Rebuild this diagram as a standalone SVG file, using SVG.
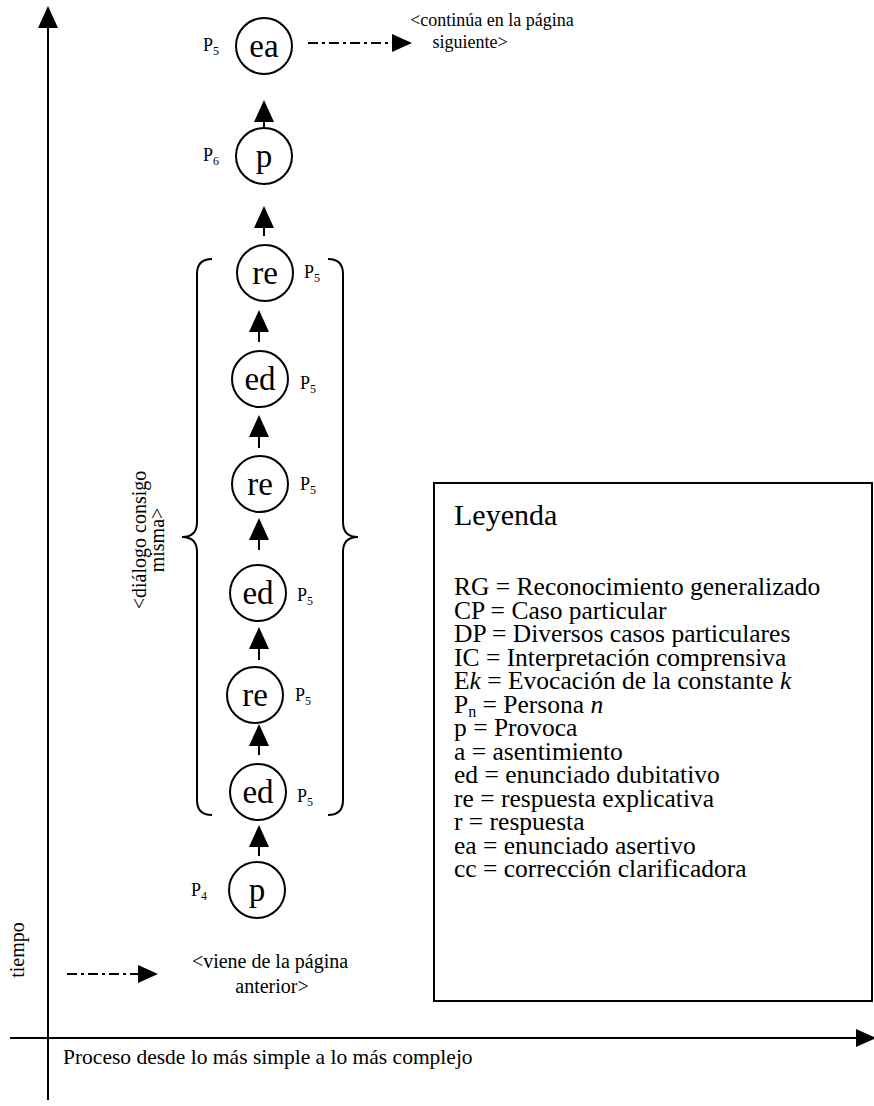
<svg xmlns="http://www.w3.org/2000/svg" xmlns:xlink="http://www.w3.org/1999/xlink" width="874" height="1106" viewBox="0 0 874 1106">
  <style>
    text { font-family: "Liberation Serif", "Times New Roman", serif; fill: #000; }
    .ring { fill: #fff; stroke: #000; stroke-width: 2; }
    .lbl { font-size: 33px; text-anchor: middle; }
    .who { font-size: 18px; }
    .sub { font-size: 12px; }
    .line { stroke: #000; stroke-width: 2; fill: none; }
    .dashdot { stroke: #000; stroke-width: 2; fill: none; stroke-dasharray: 10 4 3 4; }
    .head { fill: #000; }
    .note { font-size: 20px; }
    .legend { font-size: 25.5px; }
    .brace { stroke: #000; stroke-width: 2; fill: none; }
  </style>
  <defs>
    <!-- arrowhead pointing up, tip at origin -->
    <path id="up" class="head" d="M0,0 L10,22 L-10,22 Z"/>
    <!-- arrowhead pointing right, tip at origin -->
    <path id="right" class="head" d="M0,0 L-20,-9 L-20,9 Z"/>
  </defs>

  <!-- axes -->
  <g id="axes">
    <line class="line" x1="48" y1="26" x2="48" y2="1100"/>
    <use xlink:href="#up" x="48" y="6"/>
    <line class="line" x1="10" y1="1038" x2="858" y2="1038"/>
    <use xlink:href="#right" x="876" y="1038"/>
    <text class="note" transform="translate(24,950) rotate(-90)" text-anchor="middle">tiempo</text>
    <text x="63" y="1064" font-size="21.5">Proceso desde lo más simple a lo más complejo</text>
  </g>

  <!-- connectors -->
  <g id="connectors">
    <line class="line" x1="264" y1="120" x2="264" y2="128"/><use xlink:href="#up" x="264" y="100"/>
    <line class="line" x1="264" y1="226" x2="264" y2="236"/><use xlink:href="#up" x="264" y="206"/>
    <line class="line" x1="259" y1="330" x2="259" y2="342"/><use xlink:href="#up" x="259" y="310"/>
    <line class="line" x1="259" y1="435" x2="259" y2="448"/><use xlink:href="#up" x="259" y="415"/>
    <line class="line" x1="259" y1="538" x2="259" y2="550"/><use xlink:href="#up" x="259" y="518"/>
    <line class="line" x1="259" y1="647" x2="259" y2="660"/><use xlink:href="#up" x="259" y="627"/>
    <line class="line" x1="259" y1="744" x2="259" y2="755"/><use xlink:href="#up" x="259" y="724"/>
    <line class="line" x1="259" y1="845" x2="259" y2="856"/><use xlink:href="#up" x="259" y="825"/>
    <!-- page continuation arrows -->
    <line class="dashdot" x1="308" y1="43" x2="393" y2="43"/><use xlink:href="#right" x="412" y="43"/>
    <line class="dashdot" x1="67" y1="974" x2="140" y2="974"/><use xlink:href="#right" x="158" y="974"/>
  </g>

  <!-- dialogue nodes -->
  <g id="n-ea">
    <circle class="ring" cx="264" cy="46" r="28"/>
    <text class="lbl" x="264" y="57">ea</text>
    <text class="who" x="203" y="51">P<tspan class="sub" dy="4">5</tspan></text>
  </g>
  <g id="n-p6">
    <circle class="ring" cx="264" cy="156" r="28"/>
    <text class="lbl" x="264" y="167">p</text>
    <text class="who" x="203" y="161">P<tspan class="sub" dy="4">6</tspan></text>
  </g>
  <g id="n-re1">
    <circle class="ring" cx="265" cy="273" r="28"/>
    <text class="lbl" x="265" y="284">re</text>
    <text class="who" x="304" y="278">P<tspan class="sub" dy="4">5</tspan></text>
  </g>
  <g id="n-ed1">
    <circle class="ring" cx="260" cy="379" r="28"/>
    <text class="lbl" x="260" y="390">ed</text>
    <text class="who" x="300" y="389">P<tspan class="sub" dy="4">5</tspan></text>
  </g>
  <g id="n-re2">
    <circle class="ring" cx="260" cy="484" r="28"/>
    <text class="lbl" x="260" y="495">re</text>
    <text class="who" x="300" y="490">P<tspan class="sub" dy="4">5</tspan></text>
  </g>
  <g id="n-ed2">
    <circle class="ring" cx="258" cy="593" r="28"/>
    <text class="lbl" x="258" y="604">ed</text>
    <text class="who" x="297" y="601">P<tspan class="sub" dy="4">5</tspan></text>
  </g>
  <g id="n-re3">
    <circle class="ring" cx="255" cy="695" r="28"/>
    <text class="lbl" x="255" y="706">re</text>
    <text class="who" x="295" y="701">P<tspan class="sub" dy="4">5</tspan></text>
  </g>
  <g id="n-ed3">
    <circle class="ring" cx="258" cy="792" r="28"/>
    <text class="lbl" x="258" y="803">ed</text>
    <text class="who" x="297" y="802">P<tspan class="sub" dy="4">5</tspan></text>
  </g>
  <g id="n-p4">
    <circle class="ring" cx="257" cy="890" r="28"/>
    <text class="lbl" x="257" y="901">p</text>
    <text class="who" x="191" y="896">P<tspan class="sub" dy="4">4</tspan></text>
  </g>

  <!-- self-dialogue bracket -->
  <g id="bracket">
    <path class="brace" d="M212,259 Q197,259 197,274 L197,522 Q197,537 182,537 Q197,537 197,552 L197,800 Q197,815 212,815"/>
    <path class="brace" d="M328,259 Q343,259 343,274 L343,522 Q343,537 358,537 Q343,537 343,552 L343,800 Q343,815 328,815"/>
    <text class="note" transform="translate(146,540) rotate(-90)" text-anchor="middle">&lt;diálogo consigo</text>
    <text class="note" transform="translate(164,540) rotate(-90)" text-anchor="middle">misma&gt;</text>
  </g>

  <!-- page continuation notes -->
  <g id="note-next" font-size="18">
    <text x="492" y="26" text-anchor="middle">&lt;continúa en la página</text>
    <text x="470" y="48" text-anchor="middle">siguiente&gt;</text>
  </g>
  <g id="note-prev">
    <text class="note" x="270" y="968" text-anchor="middle">&lt;viene de la página</text>
    <text class="note" x="272" y="993" text-anchor="middle">anterior&gt;</text>
  </g>

  <!-- legend -->
  <g id="legend">
    <rect x="434" y="483" width="438" height="518" fill="#fff" stroke="#000" stroke-width="2"/>
    <text x="454" y="525" font-size="30">Leyenda</text>
    <text class="legend" x="454" y="595">RG = Reconocimiento generalizado</text>
    <text class="legend" x="454" y="618.5">CP = Caso particular</text>
    <text class="legend" x="454" y="642">DP = Diversos casos particulares</text>
    <text class="legend" x="454" y="665.5">IC = Interpretación comprensiva</text>
    <text class="legend" x="454" y="689">E<tspan font-style="italic">k</tspan> = Evocación de la constante <tspan font-style="italic">k</tspan></text>
    <text class="legend" x="454" y="712.5">P<tspan font-size="16" dy="4">n</tspan><tspan dy="-4"> = Persona </tspan><tspan font-style="italic">n</tspan></text>
    <text class="legend" x="454" y="736">p = Provoca</text>
    <text class="legend" x="454" y="759.5">a = asentimiento</text>
    <text class="legend" x="454" y="783">ed = enunciado dubitativo</text>
    <text class="legend" x="454" y="806.5">re = respuesta explicativa</text>
    <text class="legend" x="454" y="830">r = respuesta</text>
    <text class="legend" x="454" y="853.5">ea = enunciado asertivo</text>
    <text class="legend" x="454" y="877">cc = corrección clarificadora</text>
  </g>
</svg>
